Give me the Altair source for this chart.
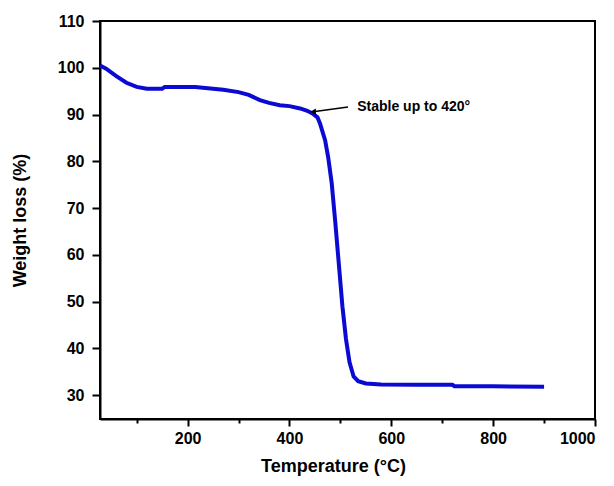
import altair as alt
import pandas as pd

# TGA curve
temps = [28, 40, 60, 80, 100, 120, 150, 155, 215, 240, 270, 300, 320, 342, 360, 381, 400, 421,
         435, 446, 455, 460, 470, 476, 483, 490, 497, 504, 511, 518, 526, 535, 550, 580, 650,
         720, 724, 800, 900]
weights = [100.5, 99.8, 98.2, 96.8, 95.9, 95.5, 95.5, 95.9, 95.9, 95.6, 95.3, 94.8, 94.2, 93.1,
           92.5, 92.0, 91.8, 91.3, 90.8, 90.2, 89.4, 88.1, 84.5, 80.9, 75.3, 67.0, 58.0, 49.0,
           42.0, 37.0, 34.0, 33.0, 32.5, 32.3, 32.2, 32.2, 31.9, 31.9, 31.8]

# annotation
note_text = ["Stable up to 420°"]
note_T = [533]
note_W = [91.6]
arrow_T = [446.5, 515]
arrow_W = [90.6, 91.6]

df = pd.DataFrame({"T": temps, "W": weights})
note_df = pd.DataFrame({"T": note_T, "W": note_W, "label": note_text})
arrow_df = pd.DataFrame({"T": [arrow_T[0]], "W": [arrow_W[0]], "T2": [arrow_T[1]], "W2": [arrow_W[1]]})

FONT = "Liberation Sans"
xscale = alt.Scale(domain=[28, 1000], nice=False, zero=False)
yscale = alt.Scale(domain=[24.9, 110], nice=False, zero=False)

x_axis = alt.Axis(
    title="Temperature (°C)",
    values=[100, 200, 300, 400, 500, 600, 700, 800, 900, 1000],
    format="d",
    labelExpr="datum.value % 200 === 0 ? datum.label : ''",
    tickSize={"condition": {"test": "datum.value % 200 === 0", "value": 7}, "value": 4},
    tickWidth=2, tickColor="black", domainColor="black", domainWidth=2,
    labelFont=FONT, labelFontSize=16, labelFontWeight="bold", labelColor="black",
    labelPadding=4, grid=False,
    titleFont=FONT, titleFontSize=18, titleFontWeight="bold", titleColor="black",
    titleX=233, titleY=47, titleBaseline="middle", titleAnchor="middle",
)
y_axis = alt.Axis(
    title="Weight loss (%)",
    values=[30, 40, 50, 60, 70, 80, 90, 100, 110],
    tickSize=8, tickWidth=2, tickColor="black", domainColor="black", domainWidth=2,
    labelFont=FONT, labelFontSize=16, labelFontWeight="bold", labelColor="black",
    labelPadding=8, grid=False,
    titleFont=FONT, titleFontSize=18, titleFontWeight="bold", titleColor="black",
    titleX=-80, titleY=199, titleAngle=-90, titleBaseline="middle", titleAlign="center",
)

line = alt.Chart(df).mark_line(color="#0a0ad2", strokeWidth=4).encode(
    x=alt.X("T:Q", scale=xscale, axis=x_axis),
    y=alt.Y("W:Q", scale=yscale, axis=y_axis),
)

arrow = alt.Chart(arrow_df).mark_rule(color="black", strokeWidth=1.5).encode(
    x=alt.X("T:Q", scale=xscale), y=alt.Y("W:Q", scale=yscale),
    x2="T2:Q", y2="W2:Q",
)
head = alt.Chart(arrow_df).mark_point(shape="triangle-left", filled=True, color="black",
                                      size=40, opacity=1).encode(
    x=alt.X("T:Q", scale=xscale), y=alt.Y("W:Q", scale=yscale),
)
text = alt.Chart(note_df).mark_text(align="left", baseline="middle", font=FONT,
                                    fontSize=14, fontWeight="bold", color="black").encode(
    x=alt.X("T:Q", scale=xscale), y=alt.Y("W:Q", scale=yscale), text="label:N",
)

chart = alt.layer(line, arrow, head, text).properties(
    width=495, height=398,
    autosize=alt.AutoSizeParams(type="none"),
    padding={"left": 92, "top": 13, "right": 11, "bottom": 59},
    background="white",
).configure_view(stroke="black", strokeWidth=2)

chart.save("out.html", embed_options={"renderer": "svg", "actions": False})
